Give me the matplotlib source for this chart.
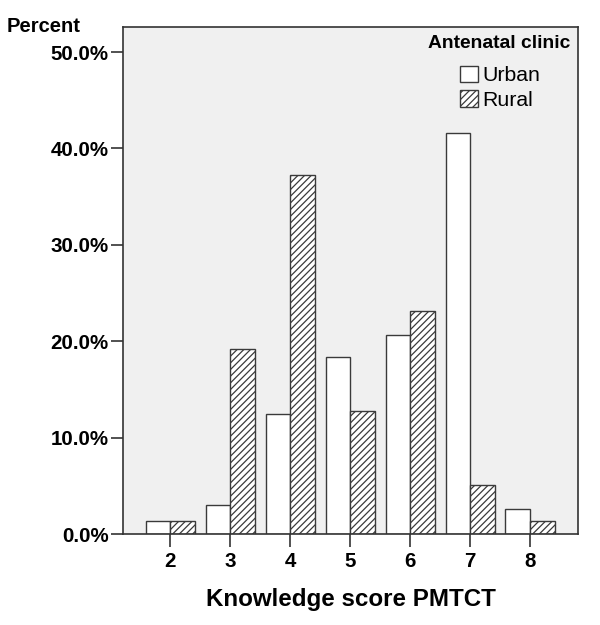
import numpy as np
import matplotlib
matplotlib.use("Agg")
import matplotlib.pyplot as plt
from matplotlib.ticker import FuncFormatter

plt.rcParams['font.family'] = ['Liberation Sans', 'DejaVu Sans']
plt.rcParams['hatch.linewidth'] = 0.9
plt.rcParams['hatch.color'] = '#202020'

# knowledge score categories and percent per clinic
scores = [2, 3, 4, 5, 6, 7, 8]
urban = [1.3, 3.0, 12.4, 18.4, 20.6, 41.6, 2.6]
rural = [1.3, 19.2, 37.2, 12.8, 23.1, 5.1, 1.3]
yticks = [0, 10, 20, 30, 40, 50]

fig = plt.figure(figsize=(6, 6.25), dpi=100)
ax = fig.add_axes([123/600, 1 - 534/625, 455/600, 507/625])
ax.set_facecolor('#f0f0f0')

x = np.array(scores)
w = 0.41
ax.bar(x - w/2, urban, w, color='white', edgecolor='#3a3a3a', linewidth=1.0, label='Urban')
ax.bar(x + w/2, rural, w, color='white', edgecolor='#3a3a3a', linewidth=1.0,
       hatch='/////', label='Rural')

ax.set_xlim(1.21, 8.8)
ax.set_ylim(0, 52.6)
ax.set_xticks(scores)
ax.set_yticks(yticks)
ax.yaxis.set_major_formatter(FuncFormatter(lambda v, p: '%.1f%%' % v))
ax.tick_params(axis='both', direction='out', length=9, width=1.2, color='#333333',
               labelsize=14.8)
ax.tick_params(axis='y', pad=1.5)
ax.tick_params(axis='x', pad=4)
for lab in ax.get_xticklabels() + ax.get_yticklabels():
    lab.set_fontweight('bold')
for s in ax.spines.values():
    s.set_color('#333333')
    s.set_linewidth(1.2)

ax.set_xlabel('Knowledge score PMTCT', fontsize=17.4, fontweight='bold', labelpad=12)
fig.text(7/600, 1 - 27/625, 'Percent', fontsize=14.5, fontweight='bold', va='center', ha='left')

# legend: title placed separately to get the wider gap
ax.text(0.826, 0.968, 'Antenatal clinic', transform=ax.transAxes, ha='center', va='center',
        fontsize=13.9, fontweight='bold')
leg = ax.legend(loc='upper center', bbox_to_anchor=(0.828, 0.924),
                frameon=False, fontsize=15.3,
                handlelength=0.85, handleheight=0.85, handletextpad=0.2, labelspacing=0.22,
                borderpad=0, borderaxespad=0)

fig.savefig('out.png', dpi=100)
